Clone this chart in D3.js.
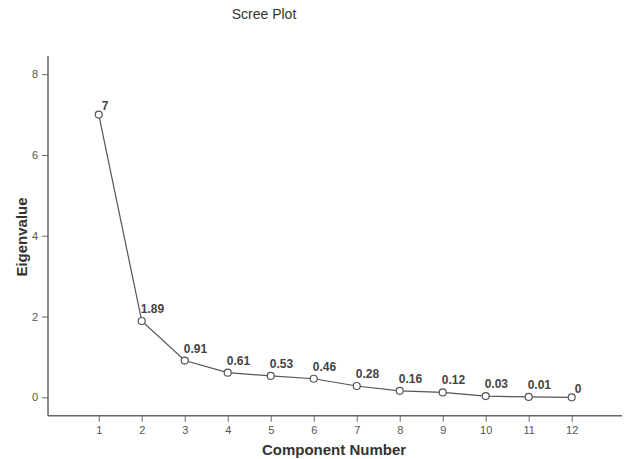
<!DOCTYPE html>
<html>
<head>
<meta charset="utf-8">
<script src="https://cdn.jsdelivr.net/npm/d3@7"></script>
<style>
  html, body { margin: 0; padding: 0; background: #fff; }
  svg { display: block; }
</style>
</head>
<body>
<svg id="chart" width="624" height="459"></svg>
<script>
const components = [1, 2, 3, 4, 5, 6, 7, 8, 9, 10, 11, 12];
const eigenvalues = [7, 1.89, 0.91, 0.61, 0.53, 0.46, 0.28, 0.16, 0.12, 0.03, 0.01, 0];
const yTickValues = [0, 2, 4, 6, 8];
const xTickValues = [1, 2, 3, 4, 5, 6, 7, 8, 9, 10, 11, 12];

const svg = d3.select("#chart");
const font = "'Liberation Sans', Arial, sans-serif";

const x = d3.scaleLinear().domain([-0.18, 13.17]).range([48, 622]);
const y = d3.scaleLinear().domain([-0.455, 8.45]).range([415.7, 56]);

// Title
svg.append("text")
  .attr("x", 264).attr("y", 19)
  .attr("text-anchor", "middle")
  .attr("font-family", font).attr("font-size", 14)
  .attr("fill", "#333")
  .text("Scree Plot");

// Y axis
const yAxis = svg.append("g")
  .attr("transform", "translate(48,0)")
  .call(d3.axisLeft(y).tickValues(yTickValues).tickSize(6).tickPadding(4).tickFormat(d3.format("d")));
yAxis.select(".domain").attr("d", `M0,${y.range()[1]}V${y.range()[0]}`).attr("stroke", "#666").attr("stroke-width", 1.5);
yAxis.selectAll(".tick line").attr("stroke", "#666");
yAxis.selectAll(".tick text").attr("font-family", font).attr("font-size", 11).attr("fill", "#555");

// X axis
const xAxis = svg.append("g")
  .attr("transform", `translate(0,${y.range()[0]})`)
  .call(d3.axisBottom(x).tickValues(xTickValues).tickSize(6).tickPadding(5).tickFormat(d3.format("d")));
xAxis.select(".domain").attr("d", `M${x.range()[0]},0H${x.range()[1]}`).attr("stroke", "#666").attr("stroke-width", 1.5);
xAxis.selectAll(".tick line").attr("stroke", "#666");
xAxis.selectAll(".tick text").attr("font-family", font).attr("font-size", 11).attr("fill", "#555");

// Axis titles
svg.append("text")
  .attr("x", 334).attr("y", 455)
  .attr("text-anchor", "middle")
  .attr("font-family", font).attr("font-size", 15).attr("font-weight", "bold")
  .attr("fill", "#333")
  .text("Component Number");

svg.append("text")
  .attr("transform", "translate(27,237) rotate(-90)")
  .attr("text-anchor", "middle")
  .attr("font-family", font).attr("font-size", 15).attr("font-weight", "bold")
  .attr("fill", "#333")
  .text("Eigenvalue");

const data = components.map((c, i) => ({ c, v: eigenvalues[i], i }));

// Line
svg.append("path")
  .datum(data)
  .attr("fill", "none")
  .attr("stroke", "#555")
  .attr("stroke-width", 1.2)
  .attr("d", d3.line().x(d => x(d.c)).y(d => y(d.v)));

// Points
svg.selectAll("circle.pt")
  .data(data)
  .join("circle")
  .attr("class", "pt")
  .attr("cx", d => x(d.c)).attr("cy", d => y(d.v))
  .attr("r", 3.5)
  .attr("fill", "#fff")
  .attr("stroke", "#555")
  .attr("stroke-width", 1.2);

// Labels
const last = data.length - 1;
svg.selectAll("text.lbl")
  .data(data)
  .join("text")
  .attr("class", "lbl")
  .attr("x", d => x(d.c) + ((d.i === 0 || d.i === last) ? 3 : -1))
  .attr("y", d => y(d.v) + ((d.i === 0 || d.i === last) ? -4.5 : -8))
  .attr("font-family", font).attr("font-size", 12).attr("font-weight", "bold")
  .attr("fill", "#444")
  .text(d => String(d.v));
</script>
</body>
</html>
